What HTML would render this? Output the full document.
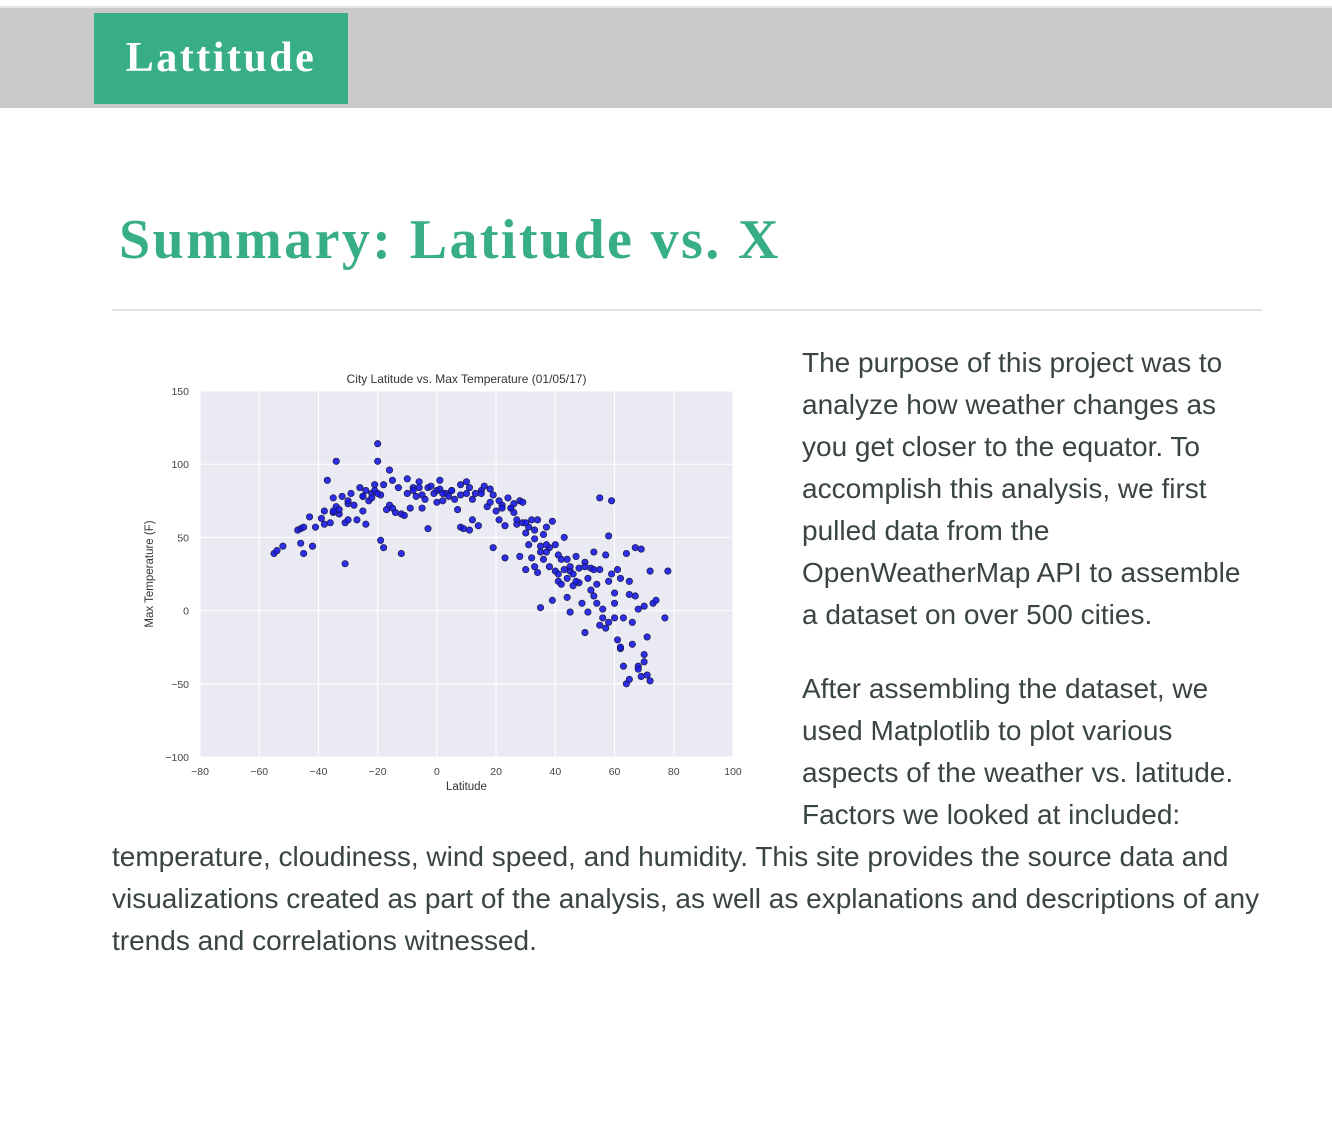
<!DOCTYPE html>
<html><head><meta charset="utf-8">
<style>
body{margin:0;background:#fff;width:1332px;height:1128px;position:relative;overflow:hidden;font-family:"Liberation Sans",sans-serif}
#topline{position:absolute;left:0;top:6px;width:1332px;height:2px;background:#e2e3e2}
#nav{position:absolute;left:0;top:8px;width:1332px;height:100px;background:#c9cac9}
#brand{position:absolute;left:94px;top:13px;width:254px;height:91px;background:#37ae88;color:#fff;font-family:"Liberation Serif",serif;font-weight:bold;font-size:42px;letter-spacing:2.5px;line-height:91px;text-align:center}
h1{position:absolute;left:119px;top:208px;margin:0;font-family:"Liberation Serif",serif;font-weight:bold;font-size:56px;letter-spacing:2.4px;color:#37ae88;white-space:nowrap}
#hr{position:absolute;left:112px;top:309px;width:1150px;height:2px;background:#e3e3e3}
#chart{position:absolute;left:140px;top:365px}
.p{position:absolute;font-size:28px;color:#3a4543;line-height:42px;white-space:nowrap}
</style></head><body>
<div id="topline"></div>
<div id="nav"></div>
<div id="brand">Lattitude</div>
<h1>Summary: Latitude vs. X</h1>
<div id="hr"></div>
<svg id="chart" width="610" height="440"></svg>
<div class="p" style="left:802px;top:342px">The purpose of this project was to<br>analyze how weather changes as<br>you get closer to the equator. To<br>accomplish this analysis, we first<br>pulled data from the<br>OpenWeatherMap API to assemble<br>a dataset on over 500 cities.</div>
<div class="p" style="left:802px;top:668px">After assembling the dataset, we<br>used Matplotlib to plot various<br>aspects of the weather vs. latitude.<br>Factors we looked at included:</div>
<div class="p" style="left:112px;top:836px">temperature, cloudiness, wind speed, and humidity. This site provides the source data and<br>visualizations created as part of the analysis, as well as explanations and descriptions of any<br>trends and correlations witnessed.</div>
<script>
const xTicks=[-80,-60,-40,-20,0,20,40,60,80,100];
const yTicks=[-100,-50,0,50,100,150];
const lats=[
-55,-54,-52,-47,-46,-46,-45,-45,-43,-42,
-41,-39,-38,-38,-37,-36,-35,-35,-34,-34,
-33,-33,-32,-31,-31,-30,-30,-29,-28,-27,
-26,-25,-25,-24,-24,-23,-22,-21,-21,-20,
-20,-19,-19,-18,-18,-17,-16,-16,-15,-14,
-13,-12,-12,-11,-10,-10,-9,-8,-7,-6,
-5,-4,-3,-3,-2,-1,0,0,1,1,
2,3,4,5,6,7,8,8,9,10,
10,11,11,12,13,14,15,16,17,18,
19,19,20,21,21,22,23,23,24,25,
26,26,27,27,28,28,29,29,30,30,
31,31,32,32,33,33,34,34,35,35,
36,36,37,37,38,38,39,39,40,40,
41,41,42,42,43,43,44,44,45,45,
46,46,47,48,48,49,50,50,51,51,
52,52,53,53,54,54,55,55,56,56,
57,57,58,58,59,59,60,60,61,61,
62,62,63,63,64,64,65,65,66,66,
67,67,68,68,69,69,70,70,71,71,
72,72,73,74,77,78,-35,-25,-20,-5,
5,15,25,35,45,55,65,62,68,70,
60,58,53,50,47,44,41,37,33,30,
-30,-15,-8,2,12,22,-22,-6,8,18];
const temps=[
39,41,44,55,56,46,39,57,64,44,
57,63,68,59,89,60,77,67,71,102,
66,69,78,60,32,73,62,80,72,62,
84,78,68,59,82,75,80,86,82,114,
102,48,79,43,86,69,72,96,89,67,
84,66,39,65,80,90,70,84,78,88,
79,76,56,84,85,80,74,82,83,89,
75,80,78,82,76,69,86,57,56,80,
88,55,84,62,80,58,82,85,71,83,
79,43,68,62,75,72,58,36,77,70,
73,67,59,62,75,37,74,60,28,53,
45,57,36,62,49,30,26,62,44,2,
52,35,40,57,30,43,61,7,45,27,
38,20,35,18,50,28,22,9,27,-1,
25,17,37,19,29,5,-15,33,-1,22,
29,14,40,28,5,18,-10,77,-5,1,
-12,38,-8,51,25,75,5,12,-20,28,
-26,22,-38,-5,39,-50,11,-47,-8,-23,
43,10,-38,1,42,-45,-30,3,-44,-18,
-48,27,5,7,-5,27,68,78,80,70,
82,80,70,40,30,28,20,-25,-40,-35,
-5,20,10,30,20,35,25,45,55,60,
75,70,82,80,76,70,77,84,79,74];
const svg=document.getElementById('chart');
const NS='http://www.w3.org/2000/svg';
const L=60,R=593,T=26,B=392;
function sx(v){return L+(v+80)/180*(R-L);}
function sy(v){return B-(v+100)/250*(B-T);}
function mk(tag,attrs){const e=document.createElementNS(NS,tag);for(const k in attrs)e.setAttribute(k,attrs[k]);svg.appendChild(e);return e;}
let bg=mk('rect',{x:L,y:T,width:R-L,height:B-T,fill:'#eaeaf2'});


xTicks.forEach(t=>{
 let g=mk('line',{x1:sx(t),x2:sx(t),y1:T,y2:B,stroke:'#fff','stroke-width':1});
 
 
 let tx=mk('text',{x:sx(t),y:B+18,'font-size':10.5,fill:'#444','text-anchor':'middle','font-family':'Liberation Sans, sans-serif'});
 tx.textContent=(t<0?'\u2212'+(-t):t);
 
 
});
yTicks.forEach(t=>{
 let g=mk('line',{x1:L,x2:R,y1:sy(t),y2:sy(t),stroke:'#fff','stroke-width':1});
 
 
 let tx=mk('text',{x:L-11,y:sy(t)+4,'font-size':10.5,fill:'#444','text-anchor':'end','font-family':'Liberation Sans, sans-serif'});
 tx.textContent=(t<0?'\u2212'+(-t):t);
 
 
});
lats.forEach((la,i)=>{
 let c=mk('circle',{cx:sx(la),cy:sy(temps[i]),r:3.2,fill:'#1a1ae8',stroke:'#1a1a40','stroke-width':0.7,'fill-opacity':0.9});
 
 
});
let ttl=mk('text',{x:(L+R)/2,y:T-8,'font-size':12,fill:'#333','text-anchor':'middle','font-family':'Liberation Sans, sans-serif'});
ttl.textContent='City Latitude vs. Max Temperature (01/05/17)';


let xl=mk('text',{x:(L+R)/2,y:B+33,'font-size':11.5,fill:'#333','text-anchor':'middle','font-family':'Liberation Sans, sans-serif'});
xl.textContent='Latitude';


let yl=mk('text',{x:0,y:0,'font-size':11.5,fill:'#333','text-anchor':'middle','font-family':'Liberation Sans, sans-serif',transform:`translate(13,${(T+B)/2}) rotate(-90)`});
yl.textContent='Max Temperature (F)';


</script>
</body></html>
